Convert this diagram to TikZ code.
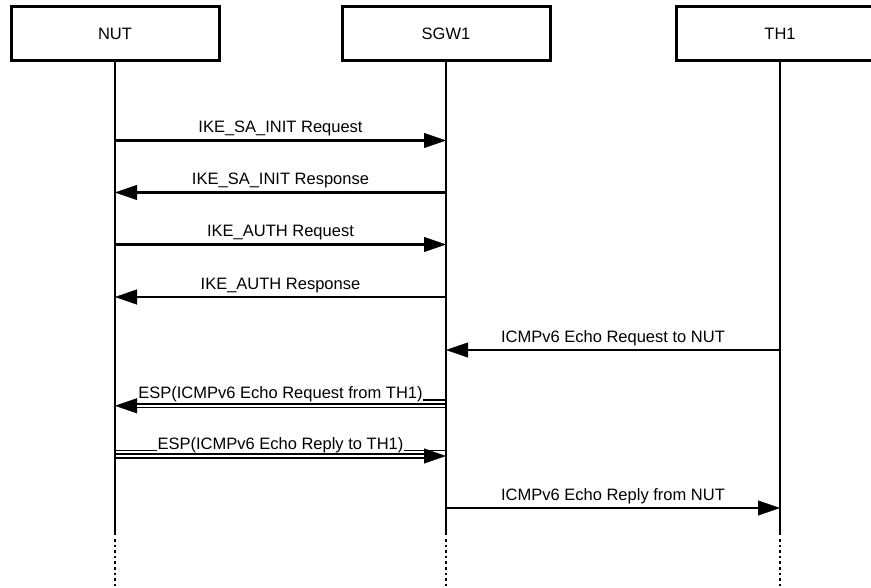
\documentclass[tikz,border=0pt]{standalone}
\usepackage{fontspec}
\setmainfont{Liberation Sans}
\usetikzlibrary{arrows.meta}
\begin{document}
\begin{tikzpicture}[x=1pt,y=-1pt,
  actor/.style={draw,line width=3pt,minimum width=208pt,minimum height=54pt,inner sep=0pt,font=\fontsize{16.5}{19}\selectfont},
  lifeline/.style={line width=2.6pt},
  lifedots/.style={line width=2.6pt,dash pattern=on 2.6pt off 3pt},
  tipend/.style={-{Triangle[length=22pt,width=15pt,line width=0.4pt]}},
  msg/.style={line width=2.6pt,tipend},
  espouter/.style={line width=5.2pt,tipend},
  espinner/.style={white,line width=1.8pt},
  ruleline/.style={line width=1.3pt},
  lbl/.style={font=\fontsize{16.5}{19}\selectfont,inner sep=0pt,anchor=base},
]
\useasboundingbox (0,0) rectangle (871,588);
% actors
\node[actor] (nut) at (115,34) {NUT};
\node[actor] (sgw) at (446,34) {SGW1};
\node[actor] (th) at (780,34) {TH1};
% lifelines
\coordinate (nE) at (115,535); \coordinate (sE) at (446,535); \coordinate (tE) at (780,535);
\coordinate (nD) at (115,539); \coordinate (sD) at (446,539); \coordinate (tD) at (780,539);
\coordinate (nB) at (115,588); \coordinate (sB) at (446,588); \coordinate (tB) at (780,588);
\draw[lifeline] (nut.south) -- (nE);
\draw[lifeline] (sgw.south) -- (sE);
\draw[lifeline] (th.south) -- (tE);
\draw[lifedots] (nD) -- (nB);
\draw[lifedots] (sD) -- (sB);
\draw[lifedots] (tD) -- (tB);
% message anchor points
\coordinate (n1) at (115,140.5); \coordinate (s1) at (446,140.5);
\coordinate (n2) at (115,192.5); \coordinate (s2) at (446,192.5);
\coordinate (n3) at (115,244.5); \coordinate (s3) at (446,244.5);
\coordinate (n4) at (115,297);   \coordinate (s4) at (446,297);
\coordinate (s5) at (446,350);   \coordinate (t5) at (780,350);
\coordinate (n6) at (115,405.8); \coordinate (s6) at (446,405.8);
\coordinate (n7) at (115,456);   \coordinate (s7) at (446,456);
\coordinate (s8) at (446,508);   \coordinate (t8) at (780,508);
% messages
\draw[msg] (n1) -- (s1);
\node[lbl] (l1) at (280.5,133) {IKE\_SA\_INIT Request};
\draw[msg] (s2) -- (n2);
\node[lbl] (l2) at (280.5,185) {IKE\_SA\_INIT Response};
\draw[msg] (n3) -- (s3);
\node[lbl] (l3) at (280.5,237) {IKE\_AUTH Request};
\draw[msg] (s4) -- (n4);
\node[lbl] (l4) at (280.5,289.5) {IKE\_AUTH Response};
\draw[msg] (t5) -- (s5);
\node[lbl] (l5) at (613,342.5) {ICMPv6 Echo Request to NUT};
% ESP request (double line)
\draw[espouter] (s6) -- (n6);
\draw[espinner,shorten <=1.3pt,shorten >=22pt] (s6) -- (n6);
\node[lbl] (l6) at (280.5,399) {ESP(ICMPv6 Echo Request from TH1)};
\path (l6.base east) ++(0,1) coordinate (u6);
\draw[ruleline] (u6) -- (u6 -| s6);
% ESP reply (double line)
\draw[espouter] (n7) -- (s7);
\draw[espinner,shorten <=1.3pt,shorten >=22pt] (n7) -- (s7);
\node[lbl] (l7) at (280.5,449.5) {ESP(ICMPv6 Echo Reply to TH1)};
\path (l7.base west) ++(0,1) coordinate (u7a);
\path (l7.base east) ++(0,1) coordinate (u7b);
\draw[ruleline] (u7a -| n7) -- (u7a);
\draw[ruleline] (u7b) -- (u7b -| s7);
% final
\draw[msg] (s8) -- (t8);
\node[lbl] (l8) at (613,500.5) {ICMPv6 Echo Reply from NUT};
\end{tikzpicture}
\end{document}
